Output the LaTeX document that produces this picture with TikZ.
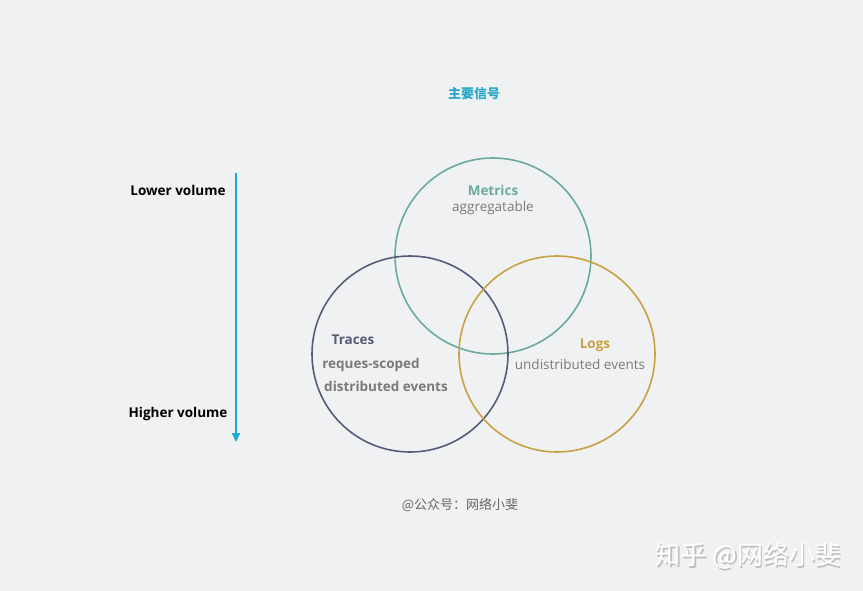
\documentclass[tikz,border=0pt]{standalone}
\usepackage{fontspec}
\setmainfont{Open Sans}
\newfontfamily\cjk{Noto Sans CJK SC}
\definecolor{bg}{HTML}{EFF1F3}
\definecolor{metc}{HTML}{6BAA9E}
\definecolor{trac}{HTML}{575B78}
\definecolor{logc}{HTML}{C9A042}
\definecolor{arrc}{HTML}{1DA8D8}
\definecolor{titc}{HTML}{2AA8C8}
\definecolor{txtg}{HTML}{7A7A7A}
\usetikzlibrary{arrows.meta}
\begin{document}
\begin{tikzpicture}[x=1pt,y=-1pt,
  ring/.style={draw,line width=1.6pt,circle,minimum size=196pt,inner sep=0pt},
  lbl/.style={inner sep=0pt,anchor=center},
  boldlbl/.style={lbl,font=\fontsize{13.5}{15}\selectfont\bfseries},
  thinlbl/.style={lbl,font=\fontsize{13.5}{15}\selectfont}]
\fill[bg] (0,0) rectangle (863,591);
\useasboundingbox (0,0) rectangle (863,591);
\node[boldlbl,text=titc,font=\cjk\fontsize{13}{15}\selectfont\bfseries] (title) at (474,94) {主要信号};
\node[ring,metc] (metrics) at (493,256) {};
\node[ring,trac] (traces) at (410,354) {};
\node[ring,logc] (logs) at (557,354) {};
\coordinate (atop) at (236,173);
\coordinate (abot) at (236,442);
\draw[arrc,line width=1.6pt,-{Triangle[length=9pt,width=8pt]}] (atop) -- (abot);
\node[boldlbl] (lower) at (178,190.5) {Lower volume};
\node[boldlbl] (higher) at (178,413.5) {Higher volume};
\node[boldlbl,text=metc] (mt) at (493,190.5) {Metrics};
\node[thinlbl,text=txtg] (ms) at (493,207.5) {aggregatable};
\node[boldlbl,text=trac] (tt) at (353,339.5) {Traces};
\node[boldlbl,text=txtg] (ts1) at (371,364.5) {reques-scoped};
\node[boldlbl,text=txtg] (ts2) at (386,386.5) {distributed events};
\node[boldlbl,text=logc] (lt) at (595,345.5) {Logs};
\node[thinlbl,text=txtg] (ls) at (580,364.5) {undistributed events};
\node[lbl,text=black!60,font=\cjk\fontsize{13}{15}\selectfont] (src) at (460,505) {@公众号：网络小斐};
\node[lbl,text=black!25,font=\cjk\fontsize{26}{30}\selectfont] (wm2) at (749.5,557.5) {知乎 @网络小斐};
\node[lbl,text=white,font=\cjk\fontsize{26}{30}\selectfont] (wm) at (748,556) {知乎 @网络小斐};
\end{tikzpicture}
\end{document}
